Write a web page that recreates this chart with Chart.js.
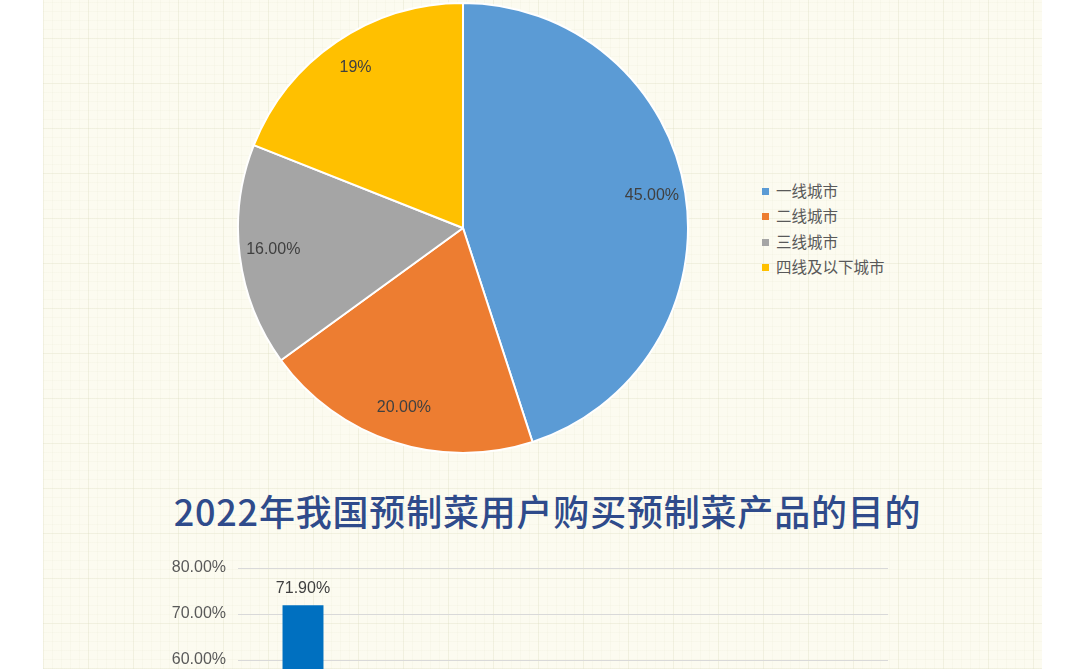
<!DOCTYPE html>
<html>
<head>
<meta charset="utf-8">
<script src="https://cdn.jsdelivr.net/npm/chart.js@4/dist/chart.umd.min.js"></script>
<style>
html, body { margin:0; padding:0; width:1080px; height:669px; overflow:hidden; background:#fff; }
#paper {
  position:absolute; left:43px; top:0; width:999px; height:669px;
  background-color:#fcfbf0;
  background-image:
    repeating-linear-gradient(90deg, rgba(215,215,185,0.22) 0 1px, transparent 1px 45px),
    repeating-linear-gradient(0deg, rgba(215,215,185,0.22) 0 1px, transparent 1px 45px),
    repeating-linear-gradient(90deg, rgba(225,225,200,0.14) 0 1px, transparent 1px 9px),
    repeating-linear-gradient(0deg, rgba(225,225,200,0.14) 0 1px, transparent 1px 9px);
}
#pieCanvas { position:absolute; left:237px; top:2px; }
#barCanvas { position:absolute; left:150px; top:540px; }
#legend { position:absolute; left:762px; top:180px; font-family:"Noto Sans CJK SC", sans-serif; font-size:15.5px; color:#595959; }
#legend div { height:25.3px; line-height:20px; white-space:nowrap; }
#legend span.box { display:inline-block; width:7px; height:7px; margin-right:7px; vertical-align:2px; }
#title {
  position:absolute; left:43px; width:1009px; top:484px; text-align:center;
  font-family:"Noto Sans CJK SC", sans-serif; font-weight:500; font-size:36px;
  letter-spacing:0.8px; color:#2f4b8b;
}
</style>
</head>
<body>
<div id="paper"></div>
<canvas id="pieCanvas" width="452" height="452"></canvas>
<div id="legend"></div>
<div id="title">2022年我国预制菜用户购买预制菜产品的目的</div>
<canvas id="barCanvas" width="760" height="430"></canvas>
<script>
// pie: city tier share
var pieLabels = ["一线城市", "二线城市", "三线城市", "四线及以下城市"];
var pieValues = [45, 20, 16, 19];
var pieText = ["45.00%", "20.00%", "16.00%", "19%"];
var pieColors = ["#5b9bd5", "#ed7d31", "#a5a5a5", "#ffc000"];

// bar: purpose of purchase (only first bar visible in the crop)
var barLabels = ["节省时间", "烹饪方便", "口味好", "价格实惠", "营养健康"];
var barValues = [71.9, 52.3, 40.6, 31.2, 22.5];
var yTicks = [0, 10, 20, 30, 40, 50, 60, 70, 80];

var labelFont = '16px "Liberation Sans", Arial, sans-serif';

//labels inside slices
var sliceLabels = {
  id: "sliceLabels",
  afterDatasetsDraw: function(chart) {
    var ctx = chart.ctx;
    var meta = chart.getDatasetMeta(0);
    ctx.save();
    ctx.font = labelFont;
    ctx.fillStyle = "#404040";
    ctx.textAlign = "center";
    ctx.textBaseline = "middle";
    meta.data.forEach(function(arc, i) {
      var mid = (arc.startAngle + arc.endAngle) / 2;
      var r = arc.outerRadius * 0.85;
      ctx.fillText(pieText[i], arc.x + Math.cos(mid) * r, arc.y + Math.sin(mid) * r - 2);
    });
    ctx.restore();
  }
};

new Chart(document.getElementById("pieCanvas"), {
  type: "pie",
  data: {
    labels: pieLabels,
    datasets: [{
      data: pieValues,
      backgroundColor: pieColors,
      borderColor: "#ffffff",
      borderWidth: 2,
      hoverOffset: 0
    }]
  },
  options: {
    responsive: false,
    animation: false,
    layout: { padding: 0 },
    plugins: { legend: { display: false }, tooltip: { enabled: false } }
  },
  plugins: [sliceLabels]
});

// html legend
var legend = document.getElementById("legend");
pieLabels.forEach(function(l, i) {
  var d = document.createElement("div");
  d.innerHTML = '<span class="box" style="background:' + pieColors[i] + '"></span>' + l;
  legend.appendChild(d);
});

var barValueLabels = {
  id: "barValueLabels",
  afterDatasetsDraw: function(chart) {
    var ctx = chart.ctx;
    var meta = chart.getDatasetMeta(0);
    ctx.save();
    ctx.font = labelFont;
    ctx.fillStyle = "#404040";
    ctx.textAlign = "center";
    ctx.textBaseline = "bottom";
    meta.data.forEach(function(bar, i) {
      ctx.fillText(barValues[i].toFixed(2) + "%", bar.x, bar.y - 9);
    });
    ctx.restore();
  }
};

new Chart(document.getElementById("barCanvas"), {
  type: "bar",
  data: {
    labels: barLabels,
    datasets: [{
      data: barValues,
      backgroundColor: "#0070c0",
      barPercentage: 0.63,
      categoryPercentage: 0.5
    }]
  },
  options: {
    responsive: false,
    animation: false,
    layout: { padding: { top: 28, right: 22, left: 0, bottom: 0 } },
    plugins: { legend: { display: false }, tooltip: { enabled: false } },
    scales: {
      x: {
        grid: { display: false },
        border: { display: false },
        ticks: { font: { size: 14 }, color: "#595959" },
        afterFit: function(s) { s.height = 34; }
      },
      y: {
        min: 0,
        max: 80,
        afterBuildTicks: function(s) { s.ticks = yTicks.map(function(v) { return { value: v }; }); },
        afterFit: function(s) { s.width = 88; },
        grid: { color: "#d9d9d9", lineWidth: 1, drawTicks: false },
        border: { display: false },
        ticks: {
          padding: 12,
          color: "#595959",
          font: { family: '"Liberation Sans", Arial, sans-serif', size: 16 },
          callback: function(v) { return v.toFixed(2) + "%"; }
        }
      }
    }
  },
  plugins: [barValueLabels]
});
</script>
</body>
</html>
